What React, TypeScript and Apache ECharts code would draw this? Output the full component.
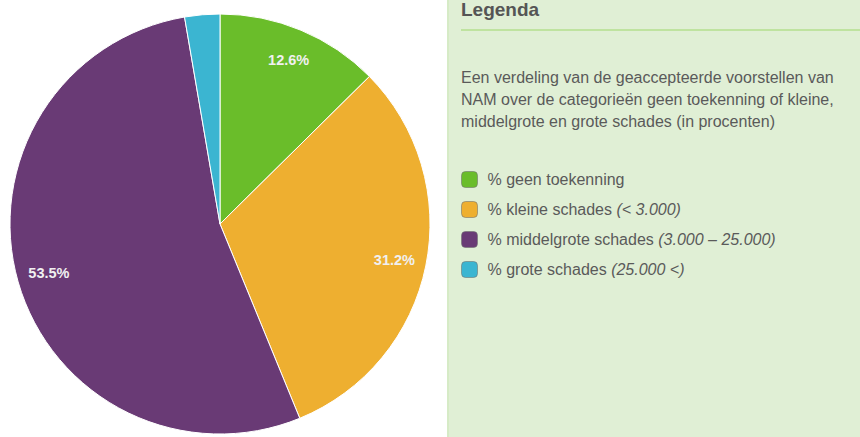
import React, { useEffect, useRef } from "react";
import * as echarts from "echarts";

const categories = ["% geen toekenning", "% kleine schades", "% middelgrote schades", "% grote schades"];
const ranges = ["", "(< 3.000)", "(3.000 – 25.000)", "(25.000 <)"];
const values = [12.6, 31.2, 53.5, 2.7];
const colors = ["#6abd2a", "#eeaf30", "#693a75", "#3bb5d1"];
const showLabel = [true, true, true, false];
const titleText = "Legenda";
const descLines = [
  "Een verdeling van de geaccepteerde voorstellen van",
  "NAM over de categorieën geen toekenning of kleine,",
  "middelgrote en grote schades (in procenten)",
];

const FONT = "'Liberation Sans', Arial, sans-serif";

export default function App() {
  const ref = useRef<HTMLDivElement>(null);
  useEffect(() => {
    if (!ref.current) return;
    const chart = echarts.init(ref.current, null, { renderer: "svg" });
    const data = categories.map((c, i) => ({
      name: c,
      value: values[i],
      itemStyle: { color: colors[i] },
    }));
    const labelData = categories.map((c, i) => ({
      name: c,
      value: values[i],
      label: { show: showLabel[i] },
    }));
    chart.setOption({
      animation: false,
      textStyle: { fontFamily: FONT },
      legend: {
        orient: "vertical",
        left: 461,
        top: 171,
        padding: 0,
        itemWidth: 16,
        itemHeight: 16,
        itemGap: 13,
        icon: "roundRect",
        data: categories,
        selectedMode: false,
        itemStyle: { borderColor: "rgba(110,110,110,0.55)", borderWidth: 1 },
        formatter: (name: string) => {
          const i = categories.indexOf(name);
          return ranges[i] ? `{a|${name} }{b|${ranges[i]}}` : `{a|${name}}`;
        },
        textStyle: {
          rich: {
            a: { fontSize: 16, color: "#5a5a5a", fontFamily: FONT },
            b: { fontSize: 16, color: "#5a5a5a", fontStyle: "italic", fontFamily: FONT },
          },
          padding: [0, 0, 0, 5],
        },
      },
      graphic: [
        {
          type: "rect",
          shape: { x: 447, y: 0, width: 413, height: 437 },
          style: { fill: "#e0efd5" },
          z: -10,
          silent: true,
        },
        {
          type: "rect",
          shape: { x: 447, y: 0, width: 2, height: 437 },
          style: { fill: "#d6ebc6" },
          z: -9,
          silent: true,
        },
        {
          type: "text",
          x: 461,
          y: 0,
          style: {
            text: titleText,
            font: `bold 19px ${FONT}`,
            fill: "#555555",
          },
        },
        {
          type: "line",
          shape: { x1: 461, y1: 30, x2: 860, y2: 30 },
          style: { stroke: "#bfe3a0", lineWidth: 2 },
        },
        {
          type: "text",
          x: 461,
          y: 66,
          style: {
            text: descLines.join("\n"),
            font: `16px ${FONT}`,
            lineHeight: 22,
            fill: "#5a5a5a",
          },
        },
      ],
      series: [
        {
          type: "pie",
          center: [220, 224],
          radius: 210,
          startAngle: 90,
          clockwise: true,
          silent: true,
          label: { show: false },
          labelLine: { show: false },
          itemStyle: { borderColor: "#ffffff", borderWidth: 1 },
          data,
        },
        {
          type: "pie",
          center: [220, 224],
          radius: [140, 210],
          startAngle: 90,
          clockwise: true,
          silent: true,
          itemStyle: { color: "transparent" },
          labelLine: { show: false },
          label: {
            position: "inside",
            formatter: (p: any) => `${p.value.toFixed(1)}%`,
            color: "#f0f0f0",
            fontSize: 14.5,
            fontWeight: "bold",
            fontFamily: FONT,
          },
          data: labelData,
        },
      ],
    });
    return () => chart.dispose();
  }, []);
  return <div ref={ref} style={{ width: 860, height: 437, position: "absolute", left: 0, top: 0 }} />;
}
